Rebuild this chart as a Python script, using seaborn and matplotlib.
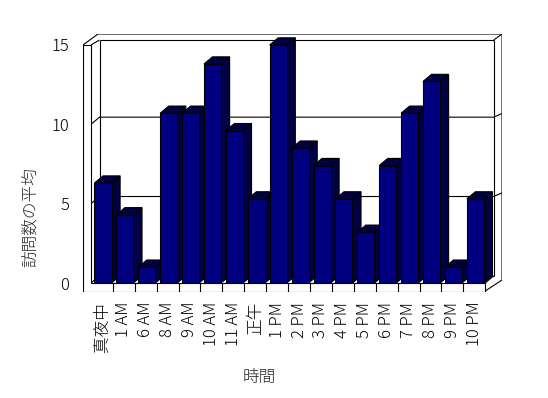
import pandas as pd
import matplotlib
matplotlib.use('Agg')
import matplotlib.pyplot as plt
import seaborn as sns
from matplotlib.patches import Polygon

# data
hours = ['真夜中', '1 AM', '6 AM', '8 AM', '9 AM', '10 AM', '11 AM', '正午',
         '1 PM', '2 PM', '3 PM', '4 PM', '5 PM', '6 PM', '7 PM', '8 PM', '9 PM', '10 PM']
avg_visits = [6.3, 4.3, 1.0, 10.7, 10.7, 13.8, 9.6, 5.3, 15.0,
              8.5, 7.4, 5.3, 3.2, 7.4, 10.7, 12.7, 1.0, 5.3]
y_ticks = [0, 5, 10, 15]

sns.set_style('white')
plt.rcParams['font.family'] = ['Noto Sans CJK JP', 'DejaVu Sans']
plt.rcParams['font.weight'] = 'light'

navy = '#000080'
shade = '#000042'
lw = 0.8

fig = plt.figure(figsize=(5.48, 3.98), dpi=100)
ax = fig.add_axes([83 / 548, 106 / 398, 419 / 548, 258 / 398])

df = pd.DataFrame({'時間': hours, '訪問数の平均': avg_visits})
sns.barplot(data=df, x='時間', y='訪問数の平均', color=navy, saturation=1,
            width=0.78, edgecolor='black', linewidth=lw, zorder=3, ax=ax)

# 3d look: depth offset of the box and bars (data units)
n = len(hours)
dx, dy = 0.39, 0.45
x_lo, x_hi = -0.5, n - 0.5
ymax = max(y_ticks)
tw = 0.365          # wall thickness
ft = 0.567          # floor thickness
top_back = ymax + 0.31
rim_top = ymax + 0.69
rim_right = x_hi + 0.767

# bar sides and tops
for p in ax.patches:
    p.set_x(p.get_x() + 0.05)
    l = p.get_x()
    r = l + p.get_width()
    v = p.get_height()
    side = [(r, 0), (r, v), (r + dx, v + dy), (r + dx, dy)]
    top = [(l, v), (r, v), (r + dx, v + dy), (l + dx, v + dy)]
    for poly in (side, top):
        ax.add_patch(Polygon(poly, closed=True, facecolor=shade,
                             edgecolor='black', linewidth=lw, zorder=2))

def seg(xs, ys, z=1):
    ax.plot(xs, ys, color='black', linewidth=lw, zorder=z,
            solid_capstyle='butt')

# gridlines on back wall, left wall and right rim
for v in y_ticks[1:-1]:
    seg([x_lo, x_lo + dx, x_hi + dx, rim_right], [v, v + dy, v + dy, v + dy + 0.23])

# back wall / left wall inner face / floor
seg([x_lo + dx, x_hi + dx], [top_back, top_back])
seg([x_lo + dx, x_lo + dx], [dy, top_back])
seg([x_hi + dx, x_hi + dx], [dy, top_back])
seg([x_lo + dx, x_hi + dx], [dy, dy])
seg([x_lo, x_lo + dx], [0, dy])
seg([x_lo, x_lo + dx], [ymax, top_back])
seg([x_hi, x_hi + dx], [0, dy])

# outer rim
seg([x_lo - tw, x_lo + 0.32, rim_right, rim_right, x_hi],
    [ymax, rim_top, rim_top, 0.19, -ft + 0.06])
seg([x_hi + dx, rim_right], [top_back, rim_top])

# front face of left wall and floor
front = [(x_lo - tw, ymax), (x_lo, ymax), (x_lo, 0), (x_hi, 0),
         (x_hi, -ft), (x_lo - tw, -ft)]
ax.add_patch(Polygon(front, closed=True, facecolor='white',
                     edgecolor='black', linewidth=lw, zorder=4))
for i in range(n - 1):
    seg([i + 0.5, i + 0.5], [-ft, 0], z=5)

ax.set_xlim(x_lo - tw, rim_right)
ax.set_ylim(-ft, rim_top)
ax.set_yticks(y_ticks)
ax.set_yticklabels([str(t) for t in y_ticks])
sns.despine(ax=ax, left=True, bottom=True)
ax.tick_params(axis='y', length=2, width=lw, pad=8, labelsize=12,
               color='black', labelcolor='black')
ax.tick_params(axis='x', length=0, pad=7, labelsize=12, labelrotation=90,
               labelcolor='black')
ax.set_xlabel('')
ax.set_ylabel('')
ax.grid(False)

fig.text(259.5 / 548, 1 - 377 / 398, '時間', ha='center', va='center', fontsize=12)
fig.text(30.5 / 548, 1 - 217.5 / 398, '訪問数の平均', rotation=90,
         ha='center', va='center', fontsize=12)

fig.savefig('out.png', dpi=100)
